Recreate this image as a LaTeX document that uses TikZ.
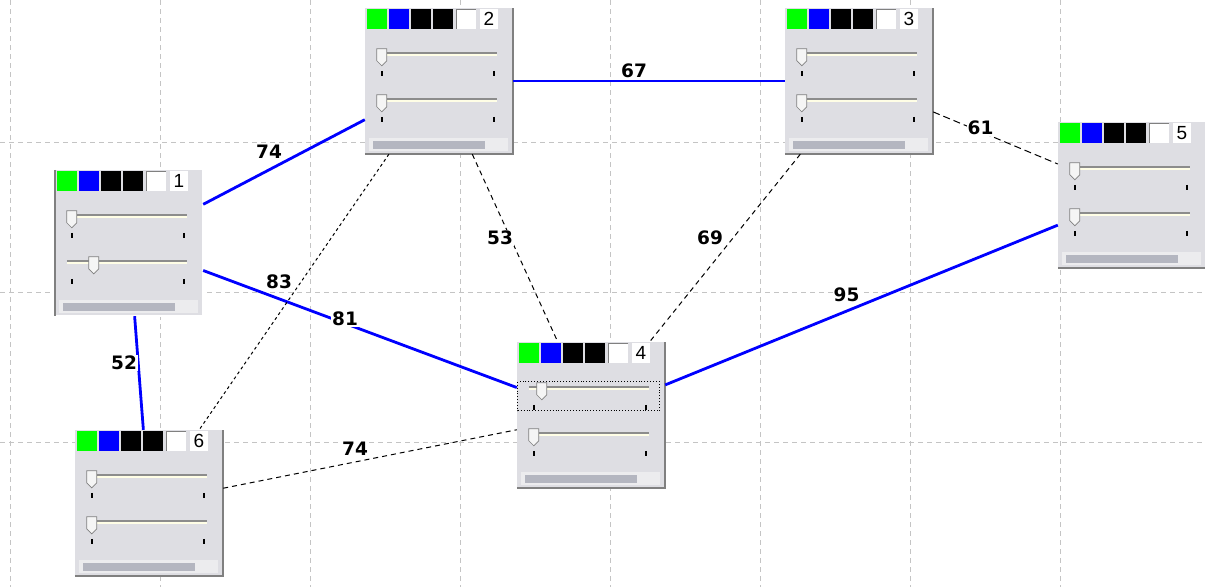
\documentclass[tikz,border=0pt]{standalone}
\usepackage{fontspec}
\setmainfont{DejaVu Sans}
\newfontfamily\numfont{Liberation Sans}
\usetikzlibrary{calc}

\definecolor{gridgray}{RGB}{196,196,196}
\definecolor{panelgray}{RGB}{222,222,227}
\definecolor{bevelgray}{RGB}{128,128,128}
\definecolor{trackgray}{RGB}{140,140,140}
\definecolor{barfill}{RGB}{180,182,192}
\definecolor{barback}{RGB}{236,236,238}
\definecolor{linkblue}{RGB}{0,0,255}

\tikzset{
  widget/.style={fill=panelgray, inner sep=0pt, minimum width=148, minimum height=146},
  strong/.style={linkblue, line width=2.8pt},
  weak/.style={black, line width=1pt, dash pattern=on 5pt off 4pt},
  weight/.style={fill=white, inner sep=1pt, font=\bfseries\fontsize{18.5}{18.5}\selectfont},
}

% colour row, two sliders and status bar of one widget
\newcommand{\widgetparts}[4]{%
  \begin{scope}[shift={(#1.north west)}]
    \fill[green] (2,1) rectangle (22,21);
    \fill[linkblue] (24,1) rectangle (44,21);
    \fill[black] (46,1) rectangle (66,21);
    \fill[black] (68,1) rectangle (88,21);
    \fill[white] (91,1) rectangle (111,21);
    \draw[bevelgray, line width=1.5pt] (91.75,21) -- (91.75,1.75) -- (111,1.75);
    \fill[white] (115,1) rectangle (133,21);
    \node[font=\numfont\fontsize{19}{19}\selectfont, inner sep=0pt] (#1num) at (124,11) {#2};
    \foreach \dy/\k in {47/#3, 93/#4} {
      \draw[trackgray, line width=2pt] (12,\dy-1.5) -- (132,\dy-1.5);
      \draw[white!90!yellow, line width=2pt] (12,\dy+0.5) -- (132,\dy+0.5);
      \filldraw[fill=white!92!gray, draw=gray, line width=0.7pt]
        (\k,\dy-6) -- (\k+10,\dy-6) -- (\k+10,\dy+6) -- (\k+5,\dy+11) -- (\k,\dy+6) -- cycle;
      \draw[black, line width=2pt] (17,\dy+16) -- (17,\dy+21) (129,\dy+16) -- (129,\dy+21);
    }
    \fill[barback] (4,130) rectangle (143,143);
    \fill[barfill] (8,133) rectangle (120,141);
    \draw[bevelgray, line width=2pt] (0,146) -- (148,146) -- (148,0);
  \end{scope}}

\begin{document}
\begin{tikzpicture}[x=1pt, y=-1pt]
\useasboundingbox[fill=white] (0,0) rectangle (1205,587);

% background grid
\foreach \gx in {10,160,...,1060}
  \draw[gridgray, line width=1pt, dash pattern=on 5pt off 4pt] (\gx,0) -- (\gx,587);
\foreach \gy in {142,292,442}
  \draw[gridgray, line width=1pt, dash pattern=on 5pt off 4pt] (0,\gy) -- (1205,\gy);

% widgets
\node[widget] (w1) at (129,243) {};
\node[widget] (w2) at (439,81) {};
\node[widget] (w3) at (859,81) {};
\node[widget] (w4) at (591,415) {};
\node[widget] (w5) at (1132,195) {};
\node[widget] (w6) at (149,503) {};
\widgetparts{w1}{1}{12}{34}
\widgetparts{w2}{2}{12}{12}
\widgetparts{w3}{3}{12}{12}
\widgetparts{w4}{4}{20}{12}
\widgetparts{w5}{5}{12}{12}
\widgetparts{w6}{6}{12}{12}
\draw[white, line width=2pt] (w1.south west) -- (w1.south east) -- (w1.north east);
\draw[bevelgray, line width=2pt] (w1.north west) -- (w1.south west);
\draw[black, line width=0.9pt, dotted] ($(w4.north west)+(1,40)$) rectangle ($(w4.north west)+(143,69)$);

% links
\draw[strong] (w1) -- (w2);
\draw[strong] (w2) -- (w3);
\draw[strong] (w1) -- (w4);
\draw[strong] (w4) -- (w5);
\draw[strong] (w1) -- (w6);
\draw[weak, dash pattern=on 3pt off 3pt] (w2) -- (w6);
\draw[weak] (w2) -- (w4);
\draw[weak] (w3) -- (w4);
\draw[weak, dash pattern=on 7pt off 4pt] (w3) -- (w5);
\draw[weak] (w6) -- (w4);

% weights
\node[weight] (l12) at ($(w1)!0.5!(w2)+(-15,-10)$) {74};
\node[weight] (l23) at ($(w2)!0.5!(w3)+(-15,-10)$) {67};
\node[weight] (l14) at ($(w1)!0.5!(w4)+(-15,-10)$) {81};
\node[weight] (l45) at ($(w4)!0.5!(w5)+(-15,-10)$) {95};
\node[weight] (l16) at ($(w1)!0.5!(w6)+(-15,-10)$) {52};
\node[weight] (l26) at ($(w2)!0.5!(w6)+(-15,-10)$) {83};
\node[weight] (l24) at ($(w2)!0.5!(w4)+(-15,-10)$) {53};
\node[weight] (l34) at ($(w3)!0.5!(w4)+(-15,-10)$) {69};
\node[weight] (l35) at ($(w3)!0.5!(w5)+(-15,-10)$) {61};
\node[weight] (l64) at ($(w6)!0.5!(w4)+(-15,-10)$) {74};
\end{tikzpicture}
\end{document}
